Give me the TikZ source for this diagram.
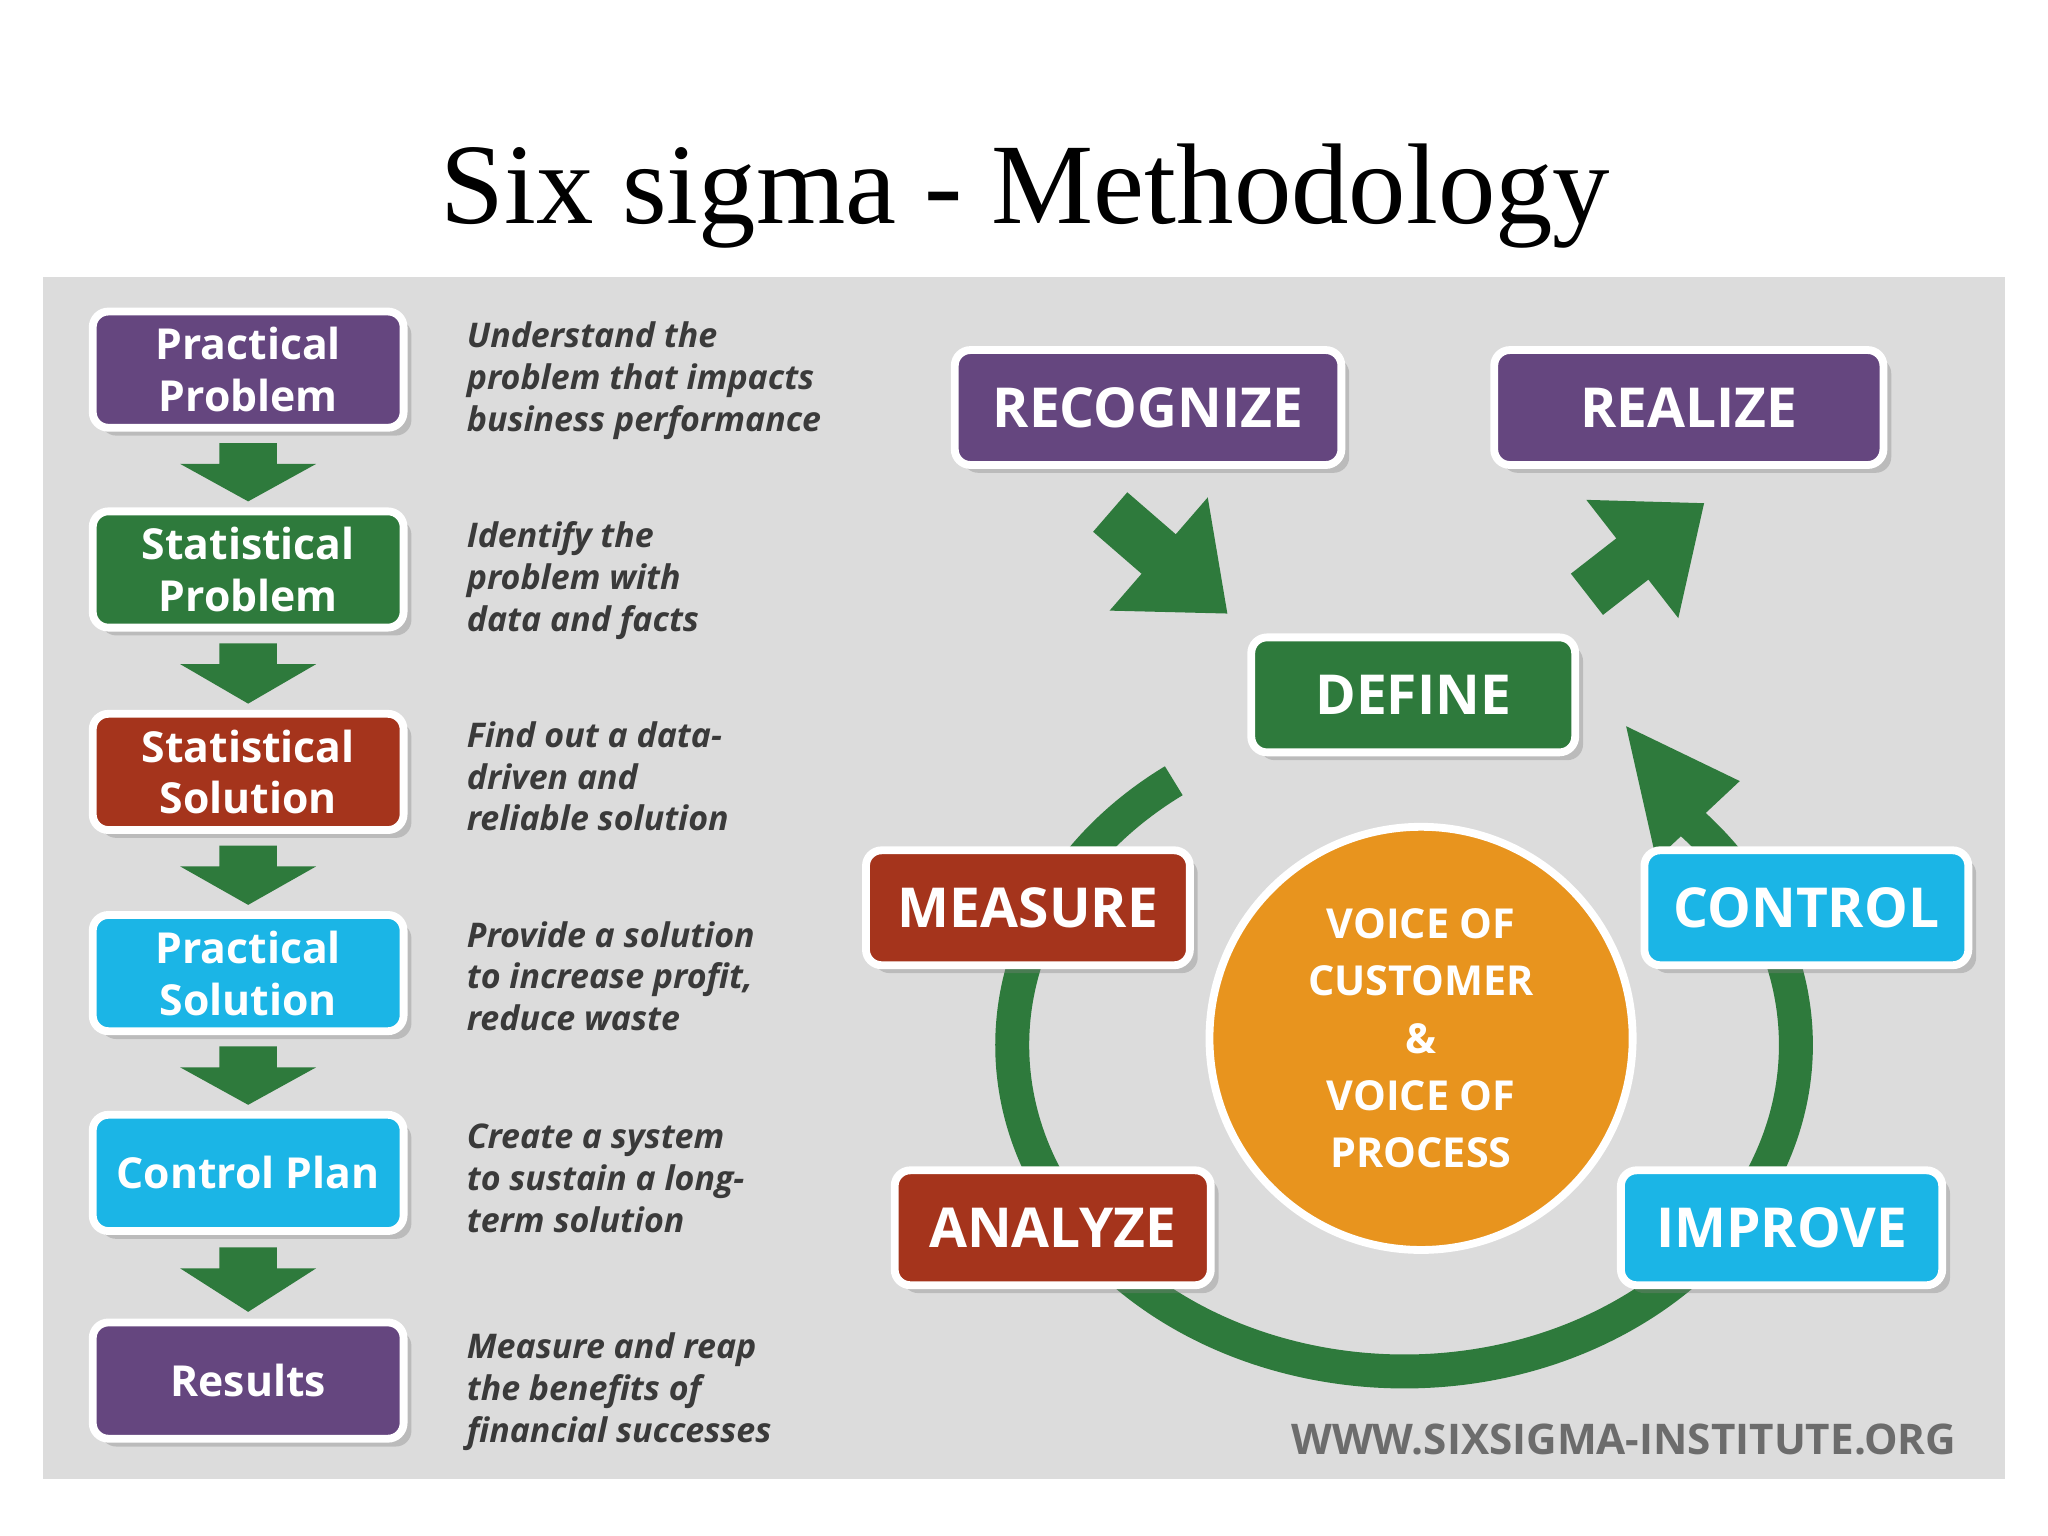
\documentclass[tikz,border=0pt]{standalone}
\usepackage{fontspec}
\setmainfont{Liberation Serif}
\newfontfamily\boxfont{Open Sans}
\usetikzlibrary{arrows.meta,shadows,calc}
\definecolor{purp}{HTML}{65467F}
\definecolor{grn}{HTML}{2E7A3C}
\definecolor{rd}{HTML}{A5341C}
\definecolor{cy}{HTML}{1BB5E6}
\definecolor{org}{HTML}{E8941E}
\definecolor{panel}{HTML}{DCDCDC}
\definecolor{desc}{HTML}{3A3A3A}
\tikzset{
 sbox/.style={draw=white,line width=0.6mm,rounded corners=1.2mm,text=white,
   font=\boxfont\bfseries\fontsize{9.3}{11.3}\selectfont,align=center,
   drop shadow={shadow xshift=0.6mm,shadow yshift=-0.6mm,opacity=0.35}},
 bbox/.style={sbox,font=\boxfont\bfseries\fontsize{12}{14}\selectfont},
 dtext/.style={anchor=north west,align=left,text=desc,
   font=\boxfont\bfseries\itshape\fontsize{7.4}{9.1}\selectfont},
}
\begin{document}
\begin{tikzpicture}[x=0.1mm,y=-0.1mm]
\useasboundingbox (0,0) rectangle (1568,1176);
\fill[white] (0,0) rectangle (1568,1176);
\node[font=\fontsize{25}{30}\selectfont] (title) at (785,150) {Six sigma - Methodology};
\fill[panel] (33,212) rectangle (1535,1132);
% left boxes
\foreach \n/\y/\c/\t in {b1/283/purp/{Practical\\Problem},b2/436/grn/{Statistical\\Problem},b3/591/rd/{Statistical\\Solution},b4/745/cy/{Practical\\Solution},b5/898/cy/{Control Plan},b6/1057/purp/{Results}}{
  \node[sbox,fill=\c,minimum width=23.8mm,minimum height=8.9mm] (\n) at (190,\y) {\t};
}
% down arrows
\foreach \a/\b in {b1/b2,b2/b3,b3/b4,b4/b5,b5/b6}{
  \path (\a.south) -- (\b.north) coordinate[pos=0.15] (t\a) coordinate[pos=0.92] (h\a);
  \fill[grn] ($(t\a)+(-22,0)$) -- ($(t\a)+(22,0)$) -- ($(t\a)+(22,16)$) -- ($(t\a)+(52,16)$) -- (h\a) -- ($(t\a)+(-52,16)$) -- ($(t\a)+(-22,16)$) -- cycle;
}
% descriptions
\node[dtext] (d1) at (345,234) {Understand the\\problem that impacts\\business performance};
\node[dtext] (d2) at (345,387) {Identify the\\problem with\\data and facts};
\node[dtext] (d3) at (345,540) {Find out a data-\\driven and\\reliable solution};
\node[dtext] (d4) at (345,693) {Provide a solution\\to increase profit,\\reduce waste};
\node[dtext] (d5) at (345,848) {Create a system\\to sustain a long-\\term solution};
\node[dtext] (d6) at (345,1008) {Measure and reap\\the benefits of\\financial successes};
% ring
\draw[grn,line width=2.6mm] (1075,800) ++(234:300 and 250) arc[start angle=234,end angle=-43,x radius=300,y radius=250];
\coordinate (rt) at (1245,556);
\fill[grn] (rt) -- (1332,598) -- (1268,658) -- cycle;
% right boxes
\node[bbox,fill=purp,minimum width=29.6mm,minimum height=8.8mm] (rec) at (879,312) {RECOGNIZE};
\node[bbox,fill=purp,minimum width=29.8mm,minimum height=8.8mm] (rea) at (1293,312) {REALIZE};
\node[bbox,fill=grn,minimum width=24.8mm,minimum height=8.8mm] (def) at (1082,532) {DEFINE};
\node[bbox,fill=rd,minimum width=24.8mm,minimum height=8.8mm] (mea) at (787,695) {MEASURE};
\node[bbox,fill=cy,minimum width=24.8mm,minimum height=8.8mm] (con) at (1383,695) {CONTROL};
\node[bbox,fill=rd,minimum width=24.2mm,minimum height=8.8mm] (ana) at (806,940) {ANALYZE};
\node[bbox,fill=cy,minimum width=24.6mm,minimum height=8.8mm] (imp) at (1364,940) {IMPROVE};
\node[circle,fill=org,draw=white,line width=0.6mm,minimum size=32.4mm,text=white,align=center,
  font=\boxfont\bfseries\fontsize{9}{12.5}\selectfont] (voc) at (1088,795) {VOICE OF\\CUSTOMER\\\&\\VOICE OF\\PROCESS};
% diagonal arrows
\coordinate (r1) at (850,392); \coordinate (r2) at (940,470);
\draw[grn,line width=4mm,-{Triangle[length=7mm,width=11mm]}] (r1) -- (r2);
\coordinate (z1) at (1215,455); \coordinate (z2) at (1305,385);
\draw[grn,line width=4mm,-{Triangle[length=7mm,width=11mm]}] (z1) -- (z2);
\node[anchor=east,text=gray!85!black,font=\boxfont\bfseries\fontsize{9.2}{11}\selectfont] (url) at (1510,1102) {WWW.SIXSIGMA-INSTITUTE.ORG};
\end{tikzpicture}
\end{document}
